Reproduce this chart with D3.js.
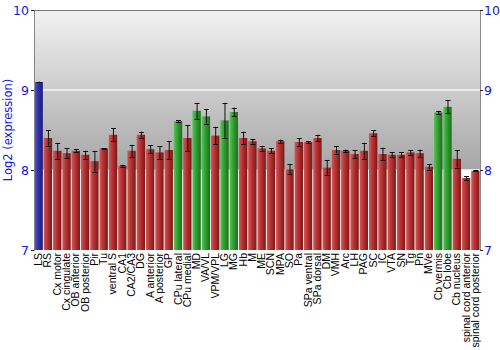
<!DOCTYPE html>
<html>
<head>
<meta charset="utf-8">
<script src="https://cdn.jsdelivr.net/npm/d3@7"></script>
<style>
	body { margin: 0; background: #fff; }
	svg { display: block; }
</style>
</head>
<body>
<svg id="chart" width="500" height="350"></svg>
<script>
// regions, in order along the x axis
const regions = ["LS", "RS", "Cx motor", "Cx cingulate", "OB anterior", "OB posterior", "Pir", "Tu",
	"ventral S", "CA1", "CA2/CA3", "DG", "A anterior", "A posterior", "GP", "CPu lateral",
	"CPu medial", "MD", "VA/VL", "VPM/VPL", "LG", "MG", "Hb", "M", "ME", "SCN", "MPA", "SO",
	"Pa", "SPa ventral", "SPa dorsal", "DM", "VMH", "Arc", "LH", "PAG", "SC", "IC", "VTA",
	"SN", "Tg", "Pn", "MVe", "Cb vermis", "Cb lobe", "Cb nucleus", "spinal cord anterior",
	"spinal cord posterior"];

// log2 expression
const values = [9.10, 8.40, 8.24, 8.21, 8.24, 8.19, 8.11, 8.27,
	8.44, 8.05, 8.24, 8.44, 8.26, 8.22, 8.25, 8.61,
	8.40, 8.74, 8.67, 8.43, 8.62, 8.725, 8.40, 8.36, 8.27, 8.24, 8.36, 8.01,
	8.35, 8.35, 8.40, 8.03, 8.25, 8.24, 8.20, 8.24, 8.46, 8.20, 8.19,
	8.19, 8.22, 8.21, 8.04, 8.72, 8.79, 8.14, 7.90,
	7.99];

// error (+/-)
const errors = [0.005, 0.10, 0.10, 0.06, 0.02, 0.05, 0.13, 0.005,
	0.08, 0.015, 0.075, 0.04, 0.05, 0.08, 0.11, 0.015,
	0.16, 0.10, 0.09, 0.11, 0.22, 0.055, 0.08, 0.03, 0.03, 0.03, 0.02, 0.06,
	0.05, 0.01, 0.04, 0.09, 0.045, 0.015, 0.05, 0.10, 0.035, 0.08, 0.03,
	0.03, 0.03, 0.045, 0.035, 0.02, 0.08, 0.11, 0.025,
	0.005];

// colour group per bar: b = blue, g = green, r = red
const groups = ["b", "r", "r", "r", "r", "r", "r", "r",
	"r", "r", "r", "r", "r", "r", "r", "g",
	"r", "g", "g", "r", "g", "g", "r", "r", "r", "r", "r", "r",
	"r", "r", "r", "r", "r", "r", "r", "r", "r", "r", "r",
	"r", "r", "r", "r", "g", "g", "r", "r",
	"r"];

const yTicks = [7, 8, 9, 10];

const margin = { top: 10, right: 20, bottom: 100, left: 34 };
const W = 500, H = 350;
const svg = d3.select("#chart");

const x = d3.scaleBand()
	.domain(regions)
	.range([margin.left, W - margin.right])
	.paddingInner(0.1)
	.paddingOuter(0.05);

const y = d3.scaleLinear()
	.domain([7, 10])
	.range([H - margin.bottom, margin.top]);

const defs = svg.append("defs");

let bg = defs.append("linearGradient")
	.attr("id", "bg")
	.attr("x1", 0).attr("y1", 0).attr("x2", 0).attr("y2", 1);
bg.append("stop").attr("offset", "0%").attr("stop-color", "#f2f2f2");
bg.append("stop").attr("offset", "100%").attr("stop-color", "#a6a6a6");

const barColors = {
	r: ["#cf5a5a", "#b83434", "#7e1616"],
	g: ["#5cc25c", "#32a332", "#187018"],
	b: ["#5a5ad0", "#3434b0", "#1a1a78"]
};
Object.keys(barColors).forEach((k) => {
	let g = defs.append("linearGradient")
		.attr("id", "bar-" + k)
		.attr("x1", 0).attr("y1", 0).attr("x2", 1).attr("y2", 0);
	g.append("stop").attr("offset", "0%").attr("stop-color", barColors[k][0]);
	g.append("stop").attr("offset", "40%").attr("stop-color", barColors[k][1]);
	g.append("stop").attr("offset", "100%").attr("stop-color", barColors[k][2]);
});

// plot background: grey gradient above 8, white below
svg.append("rect")
	.attr("x", margin.left)
	.attr("y", y(10))
	.attr("width", W - margin.right - margin.left)
	.attr("height", y(8) - y(10))
	.attr("fill", "url(#bg)");

svg.append("g")
	.selectAll("line")
	.data([8, 9])
	.join("line")
	.attr("x1", margin.left)
	.attr("x2", W - margin.right)
	.attr("y1", (d) => y(d))
	.attr("y2", (d) => y(d))
	.attr("stroke", "#f4f4f4")
	.attr("stroke-width", 1.5);

const data = regions.map((r, i) => ({ r: r, v: values[i], e: errors[i], g: groups[i] }));

svg.append("g")
	.selectAll("rect")
	.data(data)
	.join("rect")
	.attr("x", (d) => x(d.r))
	.attr("width", x.bandwidth())
	.attr("y", (d) => y(d.v))
	.attr("height", (d) => y(7) - y(d.v))
	.attr("fill", (d) => "url(#bar-" + d.g + ")");

// error bars
let err = svg.append("g")
	.attr("stroke", "#111")
	.attr("stroke-width", 1);
err.selectAll("line.v")
	.data(data)
	.join("line")
	.attr("class", "v")
	.attr("x1", (d) => x(d.r) + x.bandwidth() / 2 + 0.5)
	.attr("x2", (d) => x(d.r) + x.bandwidth() / 2 + 0.5)
	.attr("y1", (d) => y(d.v + d.e))
	.attr("y2", (d) => y(d.v - d.e));
["top", "bot"].forEach((side) => {
	err.selectAll("line." + side)
		.data(data)
		.join("line")
		.attr("class", side)
		.attr("x1", (d) => x(d.r) + x.bandwidth() / 2 - 2)
		.attr("x2", (d) => x(d.r) + x.bandwidth() / 2 + 3)
		.attr("y1", (d) => Math.round(y(side == "top" ? d.v + d.e : d.v - d.e)) + 0.5)
		.attr("y2", (d) => Math.round(y(side == "top" ? d.v + d.e : d.v - d.e)) + 0.5);
});

// frame lines
svg.append("line")
	.attr("x1", margin.left).attr("x2", W - margin.right)
	.attr("y1", y(10) + 0.5).attr("y2", y(10) + 0.5)
	.attr("stroke", "#777");

let leftAxis = svg.append("g")
	.attr("transform", `translate(${margin.left},0)`)
	.call(d3.axisLeft(y).tickValues(yTicks).tickSize(3).tickPadding(2).tickFormat(d3.format("d")));
let rightAxis = svg.append("g")
	.attr("transform", `translate(${W - margin.right},0)`)
	.call(d3.axisRight(y).tickValues(yTicks).tickSize(3).tickPadding(1).tickFormat(d3.format("d")));
[leftAxis, rightAxis].forEach((a) => {
	a.select(".domain").attr("stroke", "#888");
	a.selectAll(".tick line").attr("stroke", "#222");
	a.selectAll(".tick text")
		.attr("fill", "#1414e6")
		.style("font-family", "DejaVu Sans")
		.style("font-size", "12.5px");
});

svg.append("text")
	.attr("transform", `translate(12,${(y(7) + y(10)) / 2}) rotate(-90)`)
	.attr("text-anchor", "middle")
	.attr("fill", "#1414e6")
	.style("font-family", "DejaVu Sans")
	.style("font-size", "11.5px")
	.text("Log2 (expression)");

// x labels
svg.append("g")
	.selectAll("text")
	.data(regions)
	.join("text")
	.attr("transform", (d) => `translate(${x(d) + x.bandwidth() / 2 + 3.5},${y(7) + 3}) rotate(-90)`)
	.attr("text-anchor", "end")
	.style("font-family", "Liberation Sans")
	.style("font-size", "10.5px")
	.attr("fill", "#000")
	.text((d) => d);
</script>
</body>
</html>
